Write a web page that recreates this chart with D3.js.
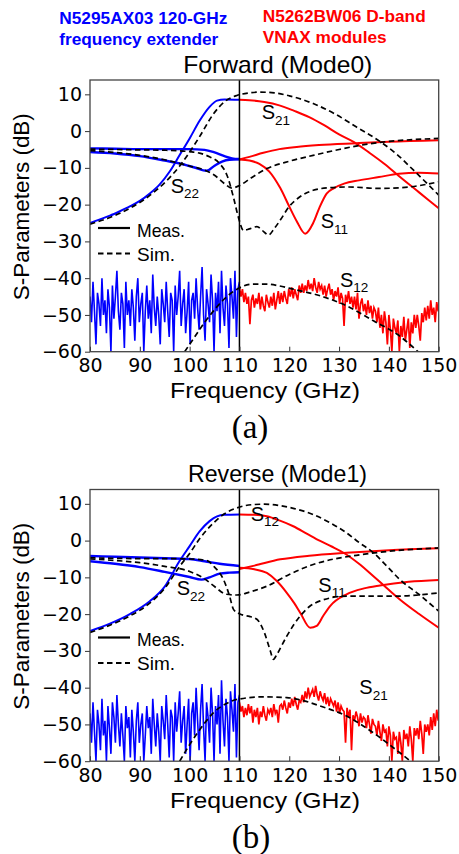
<!DOCTYPE html>
<html>
<head>
<meta charset="utf-8">
<script src="https://cdn.jsdelivr.net/npm/d3@7"></script>
<style>
  body { margin: 0; background: #fff; }
  svg { display: block; }
</style>
</head>
<body>
<svg id="fig" width="459" height="854"></svg>
<script>
// ---- data (frequency GHz, dB) ----
var xTicks = [80, 90, 100, 110, 120, 130, 140, 150];
var yTicks = [10, 0, -10, -20, -30, -40, -50, -60];

// (a) Forward (Mode0)
var fwdS21Blue = [[80,-25],[82,-24],[84,-23],[86,-21.8],[88,-20.5],[90,-19],[92,-17],[94,-14.5],[96,-11],[98,-6.5],[100,-2],[102,2.8],[104,6.6],[105.5,8.3],[107,8.6],[110,8.5]];
var fwdS21Red = [[110,8.5],[112,8.4],[115,7.9],[118,7],[121,5.5],[124,3.8],[127,1.6],[130,-0.9],[133,-3],[136,-5.8],[139,-8.8],[142,-12.2],[146,-16.6],[150,-21]];
var fwdS21Sim = [[80,-25.3],[84,-23.5],[88,-21],[92,-17.5],[95,-14],[98,-9.5],[100,-5.7],[102,-1.5],[104.8,4.7],[107,8],[109.5,9.7],[112,10.4],[114,10.6],[117,10.4],[120,9.6],[124.8,7.5],[129,4.8],[133.5,1.1],[138.2,-2.8],[141.5,-6.2],[145,-10.7],[150,-17.4]];
var fwdS11Blue = [[80,-4.7],[85,-4.8],[90,-4.9],[95,-4.9],[100,-4.9],[103,-5.1],[105,-5.8],[107,-6.8],[108.5,-7.4],[110,-7.6]];
var fwdS22Blue = [[80,-5.7],[85,-6.1],[90,-6.8],[95,-8],[98,-8.8],[101,-9.9],[103.4,-10.8],[105,-9.4],[106.5,-8.3],[108,-7.8],[110,-7.7]];
var fwdS22Red = [[110,-7.7],[112,-7],[114.8,-5.9],[118,-4.9],[121.5,-4.3],[126,-3.8],[133.5,-3.3],[140,-2.9],[150,-2.5]];
var fwdS11Red = [[110,-7.7],[112,-8],[114,-8.9],[116,-11],[118.2,-15.5],[120,-20.5],[121.5,-24.5],[123.2,-27.9],[124.8,-25],[126,-21],[127.5,-17],[129,-15.5],[131,-14.3],[134,-13.4],[138,-12.5],[142,-11.6],[146,-11.3],[150,-11.5]];
var fwdS22Sim = [[80,-5.3],[85,-5.8],[90,-6.6],[95,-7.8],[100,-9.5],[103,-10.6],[105,-12],[107,-14.3],[108.5,-15.5],[110,-14.8],[112.5,-12.6],[115.5,-10.2],[120,-8.2],[124.8,-6.6],[130,-5],[135,-3.7],[140,-2.8],[145,-2.3],[150,-2]];
var fwdS11Sim = [[80,-4.9],[85,-5],[90,-5.1],[95,-5.2],[100,-5.6],[102,-6],[104,-7],[106,-8.8],[107.5,-12],[108.8,-18],[109.8,-23.5],[110.8,-27],[112,-26.6],[113.5,-26],[115,-27.5],[115.8,-28.3],[117,-26.5],[118.2,-24.2],[120,-20.5],[122,-18],[124.8,-16.1],[128,-15.4],[132,-15.2],[138,-15.6],[144,-15.2],[150,-13.8]];
var fwdS12Sim = [[99,-60],[101,-56],[103,-52],[104.8,-48.9],[107,-45.6],[109.5,-43],[112.8,-41.6],[115.5,-41.6],[118,-42.1],[120.8,-43],[126.2,-44.8],[131.5,-47.5],[136.9,-51.6],[141.6,-55.2],[145.6,-59.7],[146,-60.2]];
// noisy S12 measurement, one value every 0.3 GHz
var fwdS12BlueNoise = [-45,-52,-41,-49,-58,-44,-47,-53,-40,-50,
  -46,-55,-43,-48,-60,-42,-51,-45,-38,-49,
  -54,-44,-47,-59,-41,-50,-46,-53,-43,-48,
  -57,-45,-40,-52,-47,-44,-60,-49,-42,-51,
  -46,-55,-39,-48,-53,-45,-50,-58,-43,-47,
  -52,-41,-49,-56,-44,-46,-60,-42,-50,-45,
  -38,-53,-47,-43,-55,-49,-41,-58,-46,-44,
  -51,-40,-48,-54,-45,-37,-50,-57,-43,-47,
  -52,-39,-46,-60,-44,-49,-41,-55,-38,-48,
  -53,-42,-47,-59,-40,-45,-51,-38,-56,-43,-41];
var fwdS12RedNoise = [-42.5,-45,-43,-46.5,-44,-47,-45,
  -52.5,-46,-44.5,-48,-45.5,-47,-44,
  -48.5,-45,-47.5,-49,-44.5,-46.5,-48,
  -45,-47.5,-44,-48.5,-46,-43.5,-47,
  -44,-46.5,-43.5,-45.5,-47,-43,-45,
  -42.5,-45.5,-43,-44.5,-46,-42,-44,
  -41.5,-44,-42,-43.5,-40.5,-43,-41.5,
  -43.5,-40,-42.5,-44,-41,-43,-42,
  -44.5,-42,-45,-43,-41.5,-44.5,-43,
  -46,-43.5,-45,-42.5,-47,-44,-45.5,
  -53,-44.5,-46.5,-43.5,-47,-45,-48,
  -45,-48.5,-44,-51,-47,-45.5,-49,
  -47,-50,-46,-49.5,-47.5,-51,-48,
  -49,-52,-48,-53.5,-50,-55,-49,
  -52,-58,-50,-54,-60,-51,-53.5,
  -55,-51.5,-60,-53,-56,-50.5,-57,
  -54,-51,-59,-52,-55,-50,-53.5,
  -50,-53,-57,-49.5,-52,-48,-51.5,
  -47.5,-51,-46,-50,-48,-52,-46.5,-49];

// (b) Reverse (Mode1)
var revS12Blue = [[80,-24.6],[84,-22.6],[88,-20],[92,-16.5],[95,-12.5],[98,-5.5],[100,-1.5],[102,2.5],[104,5.3],[105.5,6.6],[107,7],[110,7.1]];
var revS12Red = [[110,7.1],[113,7],[115.5,6.6],[118,5.5],[120.8,3.9],[123.5,1.9],[126.2,-0.1],[128.5,-1.6],[130.9,-3.3],[134,-6.3],[136.9,-9.7],[139.5,-12.8],[142.2,-16],[146,-19.9],[150,-23.7]];
var revS12Sim = [[80,-25],[84,-23],[88,-20.5],[92,-17],[95,-13],[98,-7],[100,-3.5],[102,0.5],[104.8,4.8],[107,7.3],[109.5,8.9],[112.8,9.8],[115,9.9],[118.2,9.5],[121,8.7],[124.8,7.1],[128,5],[131.5,2.1],[134,-0.5],[136.9,-3.3],[139.5,-6.8],[142.2,-10.6],[146,-14.6],[150,-19.2]];
var revS11Blue = [[80,-4.2],[85,-4.4],[90,-4.6],[95,-4.8],[100,-5],[103,-5.6],[106,-6.3],[110,-6.9]];
var revS22Blue = [[80,-5.6],[85,-6.3],[90,-7.2],[95,-8.5],[100,-9.9],[102.4,-10.6],[104,-10],[106,-9],[108,-8.7],[110,-8.6]];
var revS22Red = [[110,-7.7],[113,-6.8],[118.2,-5.1],[124,-4.1],[131.5,-3.3],[140,-2.6],[150,-2.1]];
var revS11Red = [[110,-7.4],[113,-7.8],[115.5,-8.8],[117.5,-11],[119.5,-14.2],[121,-17],[122.2,-19.6],[124.2,-23.7],[125.5,-23.2],[126.8,-20.5],[128.2,-17.8],[131.5,-14.6],[135,-13],[138.2,-12.2],[144,-11.2],[150,-10.7]];
var revS22Sim = [[80,-5],[85,-5.4],[90,-6],[95,-7],[100,-8.4],[103,-10.4],[105,-12.5],[107.4,-14.6],[109.5,-14.8],[112,-14],[115.5,-12.4],[120,-9.2],[124.8,-6.5],[129,-5],[133.5,-4],[140,-2.9],[150,-2]];
var revS11Sim = [[80,-4.7],[85,-4.8],[90,-4.9],[95,-4.9],[100,-5],[103.4,-5.4],[105,-7.2],[106.8,-10.6],[108,-15],[108.8,-18.7],[110,-19.9],[110.8,-20.3],[112,-20.6],[113.5,-21.4],[115,-25],[116.2,-30],[116.8,-32.3],[117.5,-31],[118.5,-28.5],[119.5,-26],[122.2,-20.5],[124,-18],[126.2,-16.4],[131.5,-15.1],[141.6,-15.1],[150,-14.2]];
var revS21Sim = [[98,-60],[100,-55.5],[102,-51.5],[104.8,-46.8],[107,-44.6],[109.5,-43.2],[114.8,-42.5],[119.5,-42.7],[123,-43.6],[126.2,-45],[131.5,-47.7],[136.9,-52.3],[142.2,-57.7],[144.6,-60.3]];
var revS21BlueNoise = [-47,-55,-44,-52,-60,-46,-50,-57,-43,-53,
  -49,-60,-45,-51,-58,-44,-48,-55,-42,-50,
  -56,-47,-53,-60,-45,-51,-48,-59,-46,-52,
  -60,-49,-44,-55,-50,-47,-60,-53,-45,-51,
  -48,-58,-43,-50,-56,-47,-52,-60,-45,-49,
  -54,-42,-50,-59,-46,-48,-60,-44,-52,-47,
  -41,-55,-49,-45,-58,-50,-43,-60,-47,-44,
  -53,-40,-49,-57,-46,-39,-51,-60,-44,-48,
  -55,-40,-47,-60,-45,-50,-42,-58,-38,-49,
  -56,-43,-48,-60,-41,-46,-52,-39,-59,-44,-42];
var revS21RedNoise = [-44,-46.5,-45,-48,-45.5,-47.5,-44.5,
  -47,-45,-49.5,-46,-48,-45.5,-50,
  -46.5,-48,-45,-47.5,-49,-46,-47,
  -45.5,-48,-44.5,-47,-46,-49.5,-45,
  -44.5,-46,-43.5,-45.5,-47,-44,-45.5,
  -43,-45,-42.5,-44.5,-46,-43.5,-44,
  -42,-44,-41,-43,-40,-42.5,-41.5,
  -40.5,-42.5,-39.5,-42,-43.5,-41,-42.5,
  -43.5,-41.5,-44.5,-42.5,-45,-43,-44,
  -45,-43.5,-46.5,-44,-47,-45,-46,
  -46.5,-55,-45.5,-48,-46,-57,-47.5,
  -49,-46.5,-48,-50.5,-47,-49.5,-48,
  -48.5,-51,-47.5,-50,-52.5,-48.5,-50,
  -50.5,-53,-49,-52,-54.5,-50,-52,
  -51.5,-56,-50.5,-53,-60,-52,-54,
  -53.5,-58,-52,-55,-60,-51.5,-54,
  -52.5,-56,-50.5,-54,-60,-51,-53,
  -51,-54,-49,-52.5,-58,-50,-52,
  -50,-53,-48,-51.5,-47,-50.5,-46,-49];

var BLUE = "#0000ff", RED = "#ff0000";

var svg = d3.select("#fig");

// header labels
function header(txt, x, y, len, col) {
  svg.append("text").attr("x", x).attr("y", y)
    .attr("font-family", "Liberation Sans, Arial, sans-serif")
    .attr("font-weight", "bold").attr("font-size", 16)
    .attr("fill", col)
    .attr("textLength", len).attr("lengthAdjust", "spacingAndGlyphs")
    .text(txt);
}
header("N5295AX03 120-GHz", 59.3, 24, 168, BLUE);
header("frequency extender", 59.3, 45, 159, BLUE);
header("N5262BW06 D-band", 262.7, 21.7, 163, RED);
header("VNAX modules", 262.7, 43.3, 124, RED);

// noise x positions (0.3 GHz grid)
function withFreq(vals, start) {
  return vals.map(function(v, i) { return [start + 0.3 * i, v]; });
}

function panel(cfg) {
  var top = cfg.top, bottom = cfg.top + 271.7;
  var x = d3.scaleLinear().domain([80, 150]).range([90, 438.7]);
  var y = d3.scaleLinear().domain([-60, 13.9]).range([bottom, top]);
  var g = svg.append("g");

  var clipId = "clip" + cfg.id;
  svg.append("clipPath").attr("id", clipId).append("rect")
    .attr("x", 90).attr("y", top).attr("width", 348.7).attr("height", bottom - top);

  var plot = g.append("g").attr("clip-path", "url(#" + clipId + ")");
  var smooth = d3.line().x(d => x(d[0])).y(d => y(d[1])).curve(d3.curveMonotoneX);
  var raw = d3.line().x(d => x(d[0])).y(d => y(d[1]));

  // noise first
  plot.append("path").attr("d", raw(withFreq(cfg.blueNoise, 80)))
    .attr("fill", "none").attr("stroke", BLUE).attr("stroke-width", 1.6);
  plot.append("path").attr("d", raw(withFreq(cfg.redNoise, 110)))
    .attr("fill", "none").attr("stroke", RED).attr("stroke-width", 1.7);

  cfg.meas.forEach(function(m) {
    plot.append("path").attr("d", smooth(m.data))
      .attr("fill", "none").attr("stroke", m.col).attr("stroke-width", m.w || 2);
  });
  cfg.sims.forEach(function(s) {
    plot.append("path").attr("d", smooth(s))
      .attr("fill", "none").attr("stroke", "#000").attr("stroke-width", 1.7)
      .attr("stroke-dasharray", "5.5,3.5");
  });

  // split between the two instruments
  g.append("line").attr("x1", x(110)).attr("x2", x(110)).attr("y1", top).attr("y2", bottom)
    .attr("stroke", "#000").attr("stroke-width", 1.5);

  // axes
  var xa = g.append("g").attr("transform", "translate(0," + bottom + ")")
    .call(d3.axisBottom(x).tickValues(xTicks).tickSize(-5).tickPadding(7));
  var ya = g.append("g").attr("transform", "translate(90,0)")
    .call(d3.axisLeft(y).tickValues(yTicks).tickSize(5).tickPadding(3));
  [xa, ya].forEach(function(a) {
    a.select(".domain").remove();
    a.selectAll("text").attr("font-family", "DejaVu Sans, sans-serif").attr("font-size", 19).attr("fill", "#000");
    a.selectAll("line").attr("stroke", "#333");
  });

  g.append("rect").attr("x", 90).attr("y", top).attr("width", 348.7).attr("height", bottom - top)
    .attr("fill", "none").attr("stroke", "#444").attr("stroke-width", 1.3);

  var sans = "Liberation Sans, Arial, sans-serif";
  // title
  g.append("text").attr("x", cfg.titleX).attr("y", top - 7.3)
    .attr("font-family", sans).attr("font-size", 24)
    .attr("textLength", cfg.titleLen).attr("lengthAdjust", "spacingAndGlyphs")
    .text(cfg.title);
  // axis labels
  g.append("text").attr("x", 170).attr("y", bottom + 46.6)
    .attr("font-family", sans).attr("font-size", 22)
    .attr("textLength", 190).attr("lengthAdjust", "spacingAndGlyphs")
    .text("Frequency (GHz)");
  g.append("text").attr("transform", "translate(29," + (top + 126.7) + ") rotate(-90)")
    .attr("text-anchor", "middle")
    .attr("font-family", sans).attr("font-size", 22)
    .attr("textLength", 187).attr("lengthAdjust", "spacingAndGlyphs")
    .text("S-Parameters (dB)");
  g.append("text").attr("x", 231.7).attr("y", bottom + 86.6)
    .attr("font-family", "Liberation Serif, Times New Roman, serif").attr("font-size", 33)
    .text(cfg.tag);

  // legend
  var lg = [["Meas.", null, 148, 156.7, 48], ["Sim.", "5.5,3.5", 173.5, 180.5, 38]];
  lg.forEach(function(l) {
    g.append("line").attr("x1", 98).attr("x2", 130).attr("y1", top + l[2]).attr("y2", top + l[2])
      .attr("stroke", "#000").attr("stroke-width", 2.2).attr("stroke-dasharray", l[1]);
    g.append("text").attr("x", 137).attr("y", top + l[3])
      .attr("font-family", sans).attr("font-size", 19)
      .attr("textLength", l[4]).attr("lengthAdjust", "spacingAndGlyphs")
      .text(l[0]);
  });

  // curve names
  cfg.names.forEach(function(n) {
    var t = g.append("text").attr("x", n[0]).attr("y", n[1])
      .attr("font-family", sans).attr("font-size", 20);
    t.append("tspan").text("S");
    t.append("tspan").attr("dy", 5.7).attr("font-size", 13.5).text(n[2]);
  });
}

panel({
  id: "a", top: 80, title: "Forward (Mode0)", titleX: 183.3, titleLen: 189, tag: "(a)",
  blueNoise: fwdS12BlueNoise, redNoise: fwdS12RedNoise,
  meas: [
    {data: fwdS21Blue, col: BLUE}, {data: fwdS11Blue, col: BLUE, w: 2.4}, {data: fwdS22Blue, col: BLUE, w: 2.4},
    {data: fwdS21Red, col: RED}, {data: fwdS22Red, col: RED}, {data: fwdS11Red, col: RED}
  ],
  sims: [fwdS21Sim, fwdS22Sim, fwdS11Sim, fwdS12Sim],
  names: [[261.7, 119.3, "21"], [170.7, 192.7, "22"], [320.7, 228.3, "11"], [340, 286.7, "12"]]
});

panel({
  id: "b", top: 489.5, title: "Reverse (Mode1)", titleX: 188, titleLen: 179, tag: "(b)",
  blueNoise: revS21BlueNoise, redNoise: revS21RedNoise,
  meas: [
    {data: revS12Blue, col: BLUE}, {data: revS11Blue, col: BLUE, w: 2.4}, {data: revS22Blue, col: BLUE, w: 2.4},
    {data: revS12Red, col: RED}, {data: revS22Red, col: RED}, {data: revS11Red, col: RED}
  ],
  sims: [revS12Sim, revS22Sim, revS11Sim, revS21Sim],
  names: [[250.7, 520.7, "12"], [176.7, 595, "22"], [318.3, 591.7, "11"], [359.3, 694, "21"]]
});
</script>
</body>
</html>
